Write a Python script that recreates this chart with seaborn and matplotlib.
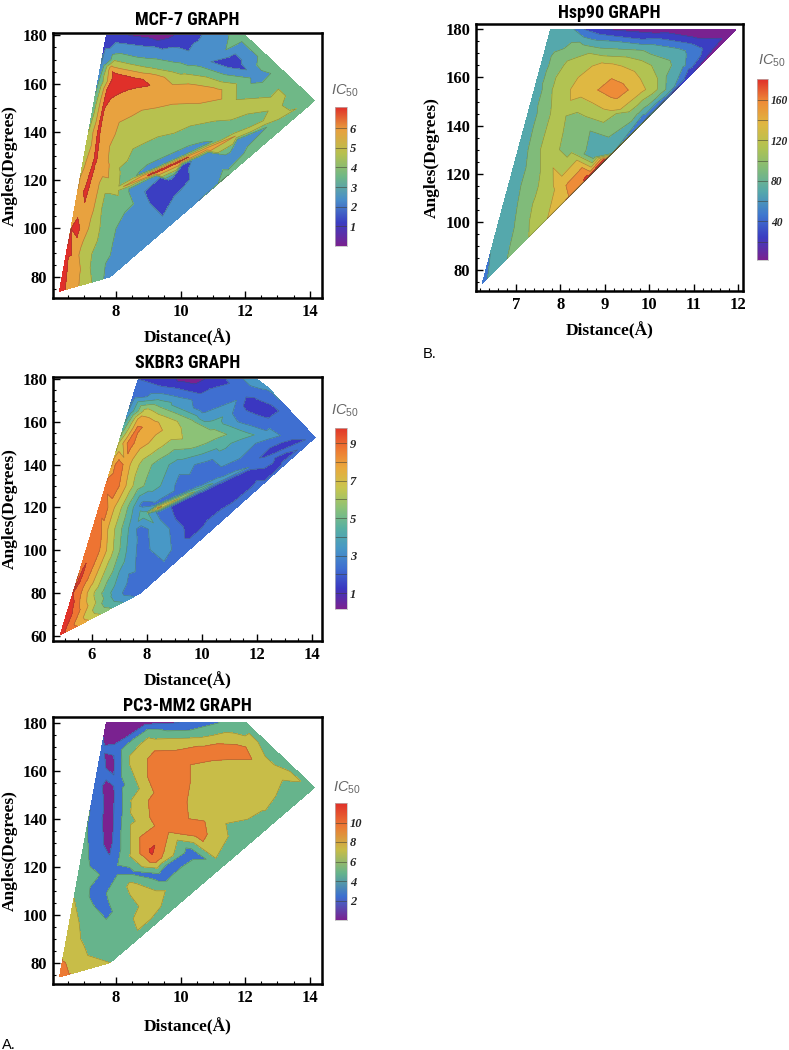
import numpy as np
import matplotlib
matplotlib.use("Agg")
import matplotlib.pyplot as plt
import matplotlib.tri as mtri
from matplotlib import font_manager as fm
from matplotlib.ticker import MultipleLocator
import seaborn as sns

sns.set_theme(style="white")
plt.rcParams["font.family"] = ["Liberation Serif", "DejaVu Serif"]
plt.rcParams["mathtext.fontset"] = "custom"
plt.rcParams["mathtext.it"] = "Liberation Sans:italic"
plt.rcParams["mathtext.rm"] = "Liberation Sans"

# ---------------- MCF-7 (distance, angle, IC50) ----------------
mcf7_dist = [6.25, 7.82, 14.15, 12.0, 7.70,
             9.2, 10.3, 11.1,
             6.65, 7.05, 7.45,
             6.44, 6.61, 6.81, 6.99, 7.15, 7.29, 7.43, 7.54, 7.63,
             8.51, 9.55, 10.42, 11.46, 12.33, 12.93,
             13.19, 12.64,
             6.55, 6.82, 7.05, 7.34, 7.45, 7.6, 7.75, 8.0, 8.7,
             6.75, 7.0, 7.3, 7.62, 7.7, 7.95, 8.6, 9.5, 10.5, 11.1, 7.85, 9.0,
             6.95, 7.3, 7.55, 7.9, 8.25, 9.0, 10.0, 11.5, 12.9, 7.9, 10.0,
             7.55, 7.7, 7.75, 8.25, 8.3, 8.8, 9.6, 10.6, 8.0, 9.0, 10.0, 11.4, 12.6, 13.6,
             8.1, 8.3, 8.9, 10.2, 10.7, 11.5, 8.3, 9.5, 10.8, 10.5, 12.4,
             9.25, 9.7, 9.0, 10.0, 11.55,
             7.88, 8.4, 9.2, 10.0, 10.8, 11.7, 12.6, 13.4,
             8.33, 9.13, 9.93, 10.73, 11.63, 12.53, 13.33,
             8.47, 9.27, 10.07, 10.87, 11.77, 12.67, 13.47]
mcf7_angle = [74, 80, 153, 180, 180,
              180, 180, 180,
              75.5, 77.0, 78.5,
              88, 100, 115, 128, 140, 150, 160, 168, 175,
              88, 100, 110, 122, 132, 139.2,
              165, 172,
              89, 100, 115, 128, 140, 150, 157, 162, 161,
              89, 100, 115, 128, 140, 150, 155, 157, 157.5, 156.6, 166.5, 163.0,
              89, 100, 115, 128, 138, 143, 146, 150, 152, 168.2, 162.3,
              90, 100, 114, 112, 122, 128, 133, 139, 171, 168, 165.5, 174, 167.5, 158,
              88, 100, 108, 113, 121, 130, 174, 172.5, 175.5, 169.3, 163.5,
              114, 119.5, 177.8, 177.8, 168.8,
              115.3, 118.4, 123.2, 128.0, 132.9, 138.3, 143.7, 148.5,
              120.1, 124.9, 129.7, 134.6, 140.0, 145.4, 150.2,
              116.7, 121.5, 126.3, 131.2, 136.6, 142.0, 146.8]
mcf7_ic50 = [6.4, 2.4, 3.7, 3.5, 1.5,
             0.4, 1.5, 2.6,
             5.5, 4.5, 3.5,
             6.2, 6.0, 5.4, 4.6, 4.0, 3.4, 2.8, 2.0, 1.8,
             2.4, 2.4, 2.5, 3.2, 3.4, 3.4,
             3.5, 3.5,
             6.3, 6.25, 6.2, 6.15, 6.15, 6.1, 6.4, 6.9, 6.4,
             5.5, 5.5, 5.5, 5.5, 5.5, 5.5, 5.5, 5.5, 5.5, 5.4, 5.5, 5.5,
             4.5, 4.5, 4.5, 4.5, 4.5, 4.5, 4.5, 4.5, 4.4, 4.5, 4.5,
             3.5, 3.5, 3.6, 3.4, 3.5, 3.5, 3.5, 3.5, 3.5, 3.5, 3.5, 3.0, 3.5, 3.6,
             2.5, 2.5, 2.5, 2.5, 2.5, 2.5, 2.5, 2.5, 2.5, 2.5, 2.5,
             1.3, 1.3, 1.5, 1.5, 1.3,
             4.6, 5.2, 6.3, 6.2, 5.6, 5.0, 4.5, 4.1,
             3.3, 2.5, 2.5, 2.8, 3.5, 3.6, 3.7,
             2.8, 2.2, 1.8, 2.4, 2.5, 3.0, 3.5]
mcf7_levels = [0, 1, 2, 3, 4, 5, 6, 7.08]
mcf7_colors = ["#7a2290", "#3b3ec2", "#4a8fca", "#6fb887", "#b7c14f", "#e8a23f", "#e0302a"]
mcf7_cbticks = [1, 2, 3, 4, 5, 6]

# ---------------- Hsp90 ----------------
hsp90_dist = [6.24, 7.78, 11.95,
              6.8, 7.29, 7.71, 8.19, 8.64, 9.0, 9.2, 10.0, 11.0,
              6.61, 7.05, 7.49, 7.71,
              8.3, 8.53, 8.98, 10.5,
              6.65, 6.8, 7.15, 7.45,
              6.92, 7.3, 7.71, 7.97, 8.28,
              7.15, 7.37, 7.7, 8.2, 8.75,
              7.4, 7.9, 8.35, 8.9, 9.3, 9.7, 9.9,
              7.52, 7.68, 7.95, 8.5, 9.25, 9.8, 10.1, 10.3, 10.48,
              7.65, 7.85, 8.3, 9.05, 9.8, 10.3, 10.7, 10.95,
              7.75, 8.5, 9.9, 10.9, 11.3,
              8.0, 8.8, 9.8, 11.0]
hsp90_angle = [74.3, 180, 180,
               84.7, 93.7, 101.5, 110.4, 118.7, 125.4, 129.1, 143.9, 162.4,
               100, 130, 160, 175,
               180, 180, 180, 180,
               88, 100, 100, 100,
               115, 115, 115, 115, 115,
               130, 130, 130, 130, 127,
               145, 145, 143, 145, 147, 145, 145,
               155, 155, 155, 155, 154.5, 155, 155, 155, 155,
               165, 165, 165, 164.5, 165, 165, 165, 165,
               172, 172, 172, 172, 172,
               177, 177, 177, 177]
hsp90_ic50 = [55, 70, 5,
              80, 100, 120, 140, 165, 180, 60, 35, 20,
              65, 68, 68, 68,
              60, 40, 20, 8,
              70, 70, 90, 110,
              70, 90, 110, 130, 150,
              70, 88, 110, 92, 72,
              75, 108, 92, 112, 125, 85, 65,
              72, 90, 110, 130, 152, 128, 108, 88, 68,
              72, 90, 110, 128, 110, 90, 70, 48,
              72, 90, 75, 55, 35,
              70, 50, 30, 18]
hsp90_levels = [2, 20, 40, 60, 80, 100, 120, 140, 160, 180.4]
hsp90_colors = ["#7a2290", "#3b3ec2", "#3f78cf", "#55a8ac", "#80bb7a", "#b2c352", "#dfb842", "#ee8c38", "#e0302a"]
hsp90_cbticks = [40, 80, 120, 160]

# ---------------- SKBR3 ----------------
skbr3_dist = [4.84, 7.75, 14.11, 11.99, 7.68,
              8.6, 9.6, 10.6, 11.3,
              5.31, 5.78, 6.02, 6.26, 6.49, 6.73, 6.97, 7.13, 7.32, 7.49, 7.58,
              8.64, 9.51, 10.39, 11.26, 12.13, 13.0,
              13.15, 12.6,
              5.45, 5.7, 5.95, 6.2, 6.5, 6.85, 7.3,
              5.62, 5.2,
              5.95, 6.2, 6.41, 6.65, 6.89, 7.13, 7.38, 7.8, 8.58, 9.15,
              6.18, 6.45, 6.7, 6.95, 7.2, 7.45, 7.75, 8.5, 9.6,
              6.42, 6.68, 6.95, 7.19, 7.4, 7.6, 7.82, 10.0, 10.8,
              6.81, 7.11, 7.35, 7.62, 8.14, 8.83, 9.2, 11.2,
              6.98, 7.25, 7.52, 7.9, 8.45, 9.15, 10.3, 12.6,
              7.35, 7.7, 8.4, 9.7, 10.6, 11.5, 12.4,
              8.8, 10.4, 11.4, 12.4, 13.3,
              7.65, 8.2, 7.7, 8.6, 9.6, 10.5, 11.4, 12.3, 7.95,
              8.5, 8.5, 8.5, 8.5, 8.6,
              10.0, 10.0, 10.0, 10.0,
              11.5, 11.7, 11.5, 11.0, 12.5, 12.5, 12.4,
              7.9, 8.4, 9.2, 10.0, 10.8, 11.7, 12.6, 13.4,
              8.33, 9.13, 9.93, 10.73, 11.63, 12.53, 13.33,
              8.47, 9.27, 10.07, 10.87, 11.77, 12.67, 13.47]
skbr3_angle = [60.3, 79.8, 152.7, 180, 180,
               180, 180, 180, 180,
               80, 100, 110, 120, 130, 140, 150, 157, 165, 172, 176,
               90, 100, 110, 120, 130, 140,
               165, 172,
               80, 80, 80, 80, 80, 80, 80,
               88, 70,
               100, 100, 100, 100, 100, 100, 100, 100, 100.5, 100,
               110, 110, 110, 110, 110, 110, 110, 109.5, 111,
               120, 120, 120, 120, 120, 120, 121, 118, 125,
               130, 130, 130, 130, 130, 130, 131, 129,
               140, 140, 140, 140, 140, 140, 140, 138,
               150, 150, 150, 150, 150, 150, 150,
               154.5, 154.3, 154, 153.8, 153.4,
               157, 158.5, 161, 161, 159.5, 158.5, 158, 157.5, 165,
               165, 168.5, 171.5, 175, 178,
               162, 166, 171, 176,
               160.5, 169.3, 174, 178, 165.2, 160, 176,
               116.8, 119.7, 124.3, 128.9, 133.6, 138.8, 144.0, 148.6,
               121.4, 126.0, 130.6, 135.3, 140.5, 145.7, 150.3,
               118.0, 122.6, 127.2, 131.9, 137.1, 142.3, 146.9]
skbr3_ic50 = [9.5, 2.5, 2.4, 3.5, 2.0,
              1.4, 0.5, 1.5, 2.8,
              9.0, 8.7, 8.6, 8.5, 8.3, 7.5, 6.0, 4.5, 3.0, 2.5, 2.2,
              2.5, 2.5, 2.5, 2.4, 2.3, 2.3,
              2.6, 2.8,
              8.8, 7.5, 6.5, 5.5, 4.5, 3.5, 2.6,
              9.1, 9.3,
              8.9, 8.3, 7.5, 6.5, 5.5, 4.5, 3.5, 2.6, 3.6, 2.5,
              8.8, 7.5, 6.5, 5.5, 4.5, 3.5, 2.6, 3.6, 1.5,
              8.8, 7.5, 6.5, 5.5, 4.5, 3.5, 2.6, 1.5, 1.4,
              8.7, 7.5, 6.5, 5.5, 4.5, 3.5, 2.5, 1.4,
              8.6, 7.5, 6.5, 5.5, 4.5, 3.5, 2.5, 1.4,
              8.5, 7.5, 6.5, 5.5, 4.5, 3.5, 2.5,
              6.6, 5.5, 4.5, 3.5, 2.5,
              8.2, 7.6, 7.4, 6.5, 5.5, 4.5, 3.5, 2.6, 6.5,
              5.5, 4.5, 3.5, 2.5, 1.5,
              3.5, 2.6, 2.5, 1.5,
              2.6, 1.5, 2.5, 2.0, 1.5, 2.5, 3.2,
              4.5, 7.2, 6.0, 4.5, 3.5, 3.0, 2.6, 2.5,
              2.8, 2.6, 2.5, 2.5, 2.5, 1.5, 1.5,
              2.5, 1.5, 1.5, 1.5, 1.5, 1.5, 2.0]
skbr3_levels = [0.15, 1, 2, 3, 4, 5, 6, 7, 8, 9, 9.8]
skbr3_colors = ["#7a2290", "#3b37c1", "#3f6fd1", "#4898c6", "#58b0a2", "#8cc277", "#c9c64e", "#eaa93d", "#ee7432", "#e0342a"]
skbr3_cbticks = [1, 3, 5, 7, 9]

# ---------------- PC3-MM2 ----------------
pc3_dist = [6.25, 7.82, 14.15, 12.03, 7.70,
            8.8, 9.97, 11.2,
            6.50, 6.70, 6.91, 7.11, 7.36, 7.56,
            8.6, 9.55, 10.42, 11.29, 12.16, 13.02,
            13.19, 12.64,
            6.9, 6.6, 6.65,
            7.3, 7.2, 7.0,
            7.4, 7.4, 7.45, 7.6, 7.65, 7.9, 8.05, 8.05, 8.05, 8.0,
            7.8, 7.8, 7.8, 7.8, 7.8, 7.8,
            8.3, 8.3, 8.25, 8.0, 8.3, 7.8, 9.8, 10.5, 11.8, 12.8,
            9.0, 10.5, 9.0, 10.5, 11.8,
            8.55, 8.6, 8.6, 9.0, 10.3, 11.5, 12.2, 11.2, 12.6, 11.0, 12.3, 13.5,
            9.4, 10.8, 11.9, 9.4, 9.5, 9.2, 10.5,
            9.09,
            9.6, 10.3, 9.35, 8.5,
            9.2, 8.72, 8.5,
            13.6]
pc3_angle = [74, 80, 153, 180, 180,
             180, 180, 180,
             92, 107, 122, 137, 155, 170,
             89, 100, 110, 120, 130, 140,
             165, 172,
             76.5, 85, 95,
             88, 100, 115,
             108, 125, 145, 160, 102, 118, 170, 155, 140, 128,
             125.5, 132, 142, 152, 162, 172,
             165, 140, 124, 110, 100, 90, 112, 120, 132, 140,
             178.8, 178.5, 176, 175.5, 177,
             165, 145, 125, 171.5, 172.0, 174, 172, 160, 160, 144, 146, 157,
             165, 168.5, 168.5, 150, 136, 123, 134,
             126.2,
             120, 126.2, 116, 117.6,
             107.5, 97, 112.5,
             153]
pc3_ic50 = [8.6, 6.0, 5.0, 5.0, 1.0,
            0.8, 2.0, 4.0,
            7.0, 6.0, 5.0, 4.0, 3.0, 2.6,
            5.0, 5.0, 5.0, 5.0, 5.0, 5.0,
            5.0, 5.0,
            7.3, 7.5, 6.6,
            5.0, 5.0, 5.0,
            3.0, 3.0, 3.0, 3.0, 3.4, 3.2, 3.0, 3.0, 3.0, 3.0,
            1.9, 1.2, 1.0, 0.9, 0.8, 0.7,
            5.0, 5.0, 5.0, 5.0, 5.0, 5.2, 5.0, 5.0, 5.0, 5.0,
            3.0, 3.6, 5.0, 5.0, 5.2,
            7.0, 7.0, 7.0, 7.0, 7.0, 7.0, 6.8, 7.0, 7.0, 7.0, 6.8, 6.5,
            9.0, 9.0, 8.8, 9.0, 9.0, 9.2, 9.0,
            10.4,
            3.0, 3.0, 3.0, 3.5,
            7.2, 6.8, 6.5,
            5.2]
pc3_levels = [0, 2, 4, 6, 8, 10, 12]
pc3_colors = ["#7a2290", "#3c6fd0", "#66b48c", "#c8bd48", "#ec7a34", "#e0302a"]
pc3_cbticks = [2, 4, 6, 8, 10]

W, H = 789, 1050
fig = plt.figure(figsize=(W / 100, H / 100), dpi=100)
fig.patch.set_facecolor("white")


def pick_title_font():
    options = [("Liberation Sans Narrow", "normal", 13),
               ("Roboto Condensed", "normal", 13),
               ("DejaVu Sans", "condensed", 11.5)]
    for fam, stretch, size in options:
        try:
            path = fm.findfont(fm.FontProperties(family=fam, weight="bold", stretch=stretch),
                               fallback_to_default=False)
        except Exception:
            continue
        low = path.lower()
        if stretch == "condensed" and "condensed" not in low:
            continue
        if fam == "Liberation Sans Narrow" and "narrow" not in low:
            continue
        if fam == "Roboto Condensed" and "condensed" not in low:
            continue
        prop = fm.FontProperties(fname=path)
        prop.set_size(size)
        return prop
    prop = fm.FontProperties(family=["Liberation Sans", "DejaVu Sans"], weight="bold")
    prop.set_size(11)
    return prop


TITLE_FONT = pick_title_font()


def frect(l, t, r, b):
    return [l / W, 1 - b / H, (r - l) / W, (b - t) / H]


def panel(dist, ang, ic50, levels, colors, cbticks, title, box, cbox, labxy,
          xlim, ylim, xmaj, xmin_, title_pad, xlabpad, ylabpad, cbsize):
    ax = fig.add_axes(frect(*box))
    x = np.asarray(dist, float)
    y = np.asarray(ang, float)
    z = np.asarray(ic50, float)
    base = mtri.Triangulation(x, y / 12.0)
    tri = mtri.Triangulation(x, y, base.triangles)
    ax.tricontourf(tri, z, levels=levels, colors=colors)
    ax.tricontour(tri, z, levels=levels[1:-1], colors=[(0.3, 0.3, 0.2)],
                  linewidths=0.45, alpha=0.45)
    ax.set_xlim(*xlim)
    ax.set_ylim(*ylim)
    ax.set_facecolor("white")
    ax.xaxis.set_major_locator(MultipleLocator(xmaj))
    ax.xaxis.set_minor_locator(MultipleLocator(xmin_))
    ax.yaxis.set_major_locator(MultipleLocator(20))
    ax.yaxis.set_minor_locator(MultipleLocator(5))
    for s in ax.spines.values():
        s.set_visible(True)
        s.set_linewidth(1.8)
        s.set_color("black")
    ax.tick_params(which="both", direction="in", top=False, right=False,
                   left=True, bottom=True, color="black")
    ax.tick_params(which="major", length=5, width=1.0, labelsize=12, pad=4,
                   labelcolor="black")
    ax.tick_params(which="minor", length=2.5, width=0.8)
    for lab in ax.get_xticklabels() + ax.get_yticklabels():
        lab.set_fontweight("bold")
    ax.set_xlabel("Distance(Å)", fontsize=12.5, fontweight="bold", labelpad=xlabpad, color="black")
    ax.set_ylabel("Angles(Degrees)", fontsize=12.5, fontweight="bold", labelpad=ylabpad, color="black")
    ax.set_title(title, fontproperties=TITLE_FONT, pad=title_pad, color="black")
    ax.grid(False)

    vmin, vmax = levels[0], levels[-1]
    cmap = sns.blend_palette(colors, as_cmap=True)
    cax = fig.add_axes(frect(*cbox))
    grad = np.linspace(vmin, vmax, 256).reshape(-1, 1)
    cax.imshow(grad, aspect="auto", cmap=cmap, origin="lower",
               extent=[0, 1, vmin, vmax], interpolation="bilinear")
    for lv in levels[1:-1]:
        cax.axhline(lv, color=(0.25, 0.25, 0.2), lw=0.7, alpha=0.55)
    cax.set_xlim(0, 1)
    cax.set_ylim(vmin, vmax)
    cax.set_xticks([])
    cax.yaxis.tick_right()
    cax.set_yticks(cbticks)
    cax.set_yticklabels([str(t) for t in cbticks])
    cax.tick_params(axis="y", length=0, pad=2, labelsize=cbsize)
    for lab in cax.get_yticklabels():
        lab.set_fontweight("bold")
        lab.set_fontstyle("italic")
    for s in cax.spines.values():
        s.set_linewidth(0.5)
        s.set_color("#bbbbbb")
    fig.text(labxy[0] / W, 1 - labxy[1] / H, r"$IC_{50}$", color="#666666",
             fontsize=10.5, ha="center", va="bottom")
    return ax


panel(mcf7_dist, mcf7_angle, mcf7_ic50, mcf7_levels, mcf7_colors, mcf7_cbticks,
      "MCF-7 GRAPH", (53, 33, 322, 298), (335, 107, 347, 246), (345, 99),
      (6.05, 14.38), (71.2, 181), 2, 0.5, 6, 7, 3, 9)
panel(hsp90_dist, hsp90_angle, hsp90_ic50, hsp90_levels, hsp90_colors, hsp90_cbticks,
      "Hsp90 GRAPH", (476, 24, 743, 291), (757, 79, 768, 260), (772, 69),
      (6.1, 12.11), (71.3, 182.2), 1, 0.2, 4.5, 7, 4, 8.3)
panel(skbr3_dist, skbr3_angle, skbr3_ic50, skbr3_levels, skbr3_colors, skbr3_cbticks,
      "SKBR3 GRAPH", (53, 377, 322, 641), (335, 428, 347, 609), (345, 419),
      (4.58, 14.36), (57.5, 181), 2, 0.5, 6.5, 7, 3, 9)
panel(pc3_dist, pc3_angle, pc3_ic50, pc3_levels, pc3_colors, pc3_cbticks,
      "PC3-MM2 GRAPH", (53, 717, 322, 984), (335, 803, 347, 920), (347, 796),
      (6.05, 14.38), (71.1, 182.4), 2, 0.5, 4, 9, 3, 9)

fig.text(2 / W, 1 - 1049 / H, "A.", fontsize=10.5, family=["Liberation Sans", "DejaVu Sans"],
         ha="left", va="baseline", color="black")
fig.text(423 / W, 1 - 358 / H, "B.", fontsize=10.5, family=["Liberation Sans", "DejaVu Sans"],
         ha="left", va="baseline", color="black")

fig.savefig("out.png", dpi=100, facecolor="white")
